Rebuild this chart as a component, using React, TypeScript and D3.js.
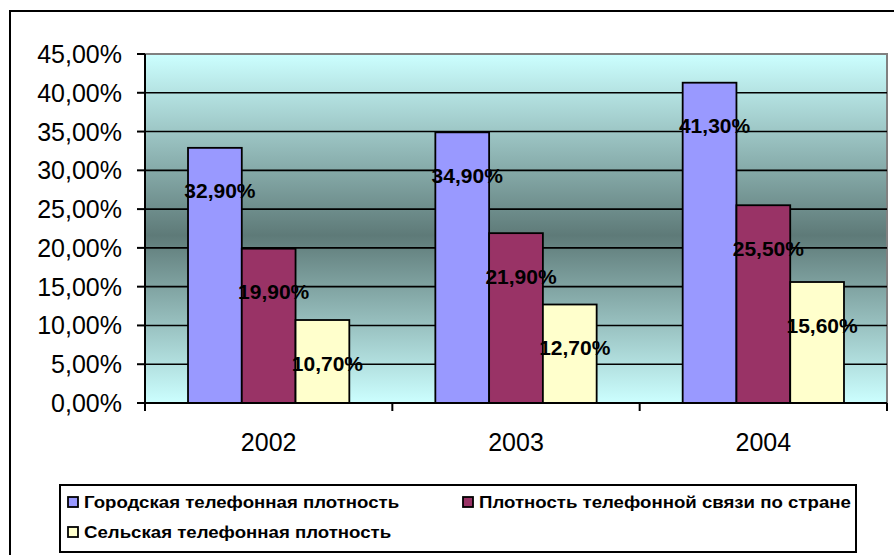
import { useMemo } from "react";
import * as d3 from "d3";

const years = ["2002", "2003", "2004"];
const seriesNames = [
  "Городская телефонная плотность",
  "Плотность телефонной связи по стране",
  "Сельская телефонная плотность",
];
const urbanDensity = [32.9, 34.9, 41.3];
const nationalDensity = [19.9, 21.9, 25.5];
const ruralDensity = [10.7, 12.7, 15.6];
const yTicks = [0, 5, 10, 15, 20, 25, 30, 35, 40, 45];

const seriesColors = ["#9999FF", "#993366", "#FFFFCC"];
const FONT = "'Liberation Sans', Arial, sans-serif";

const fmt = (v: number) => v.toFixed(2).replace(".", ",") + "%";

export default function App() {
  const width = 894;
  const height = 555;
  const plot = { left: 145, right: 887, top: 54, bottom: 403 };

  const values = [urbanDensity, nationalDensity, ruralDensity];

  const x = useMemo(
    () => d3.scaleBand<string>().domain(years).range([plot.left, plot.right]),
    []
  );
  const y = useMemo(
    () => d3.scaleLinear().domain([0, 45]).range([plot.bottom, plot.top]),
    []
  );
  const bw = x.bandwidth();
  const gapWidth = 1.6;
  const barW = bw / (seriesNames.length + gapWidth);
  const inner = d3
    .scaleBand<number>()
    .domain(d3.range(seriesNames.length))
    .range([(barW * gapWidth) / 2, bw - (barW * gapWidth) / 2]);

  const boundaries = [...years.map((yr) => x(yr)!), plot.right];

  // legend text in the original is drawn slightly stretched horizontally
  const legendStretch = 1.165;
  const legendItems = [
    { i: 0, x: 68, y: 502 },
    { i: 1, x: 463, y: 502 },
    { i: 2, x: 68, y: 532 },
  ];

  return (
    <svg
      width={width}
      height={height}
      style={{ position: "absolute", left: 0, top: 0, background: "#fff" }}
      fontFamily={FONT}
    >
      <defs>
        <linearGradient id="plotBg" x1="0" y1="0" x2="0" y2="1">
          <stop offset="0%" stopColor="#CCFFFF" />
          <stop offset="52%" stopColor="#5E7A78" />
          <stop offset="100%" stopColor="#CCFFFF" />
        </linearGradient>
      </defs>

      {/* chart border */}
      <rect x={10} y={11} width={910} height={580} fill="#fff" stroke="#000" strokeWidth={2} />

      {/* plot area */}
      <rect
        x={plot.left}
        y={plot.top}
        width={plot.right - plot.left}
        height={plot.bottom - plot.top}
        fill="url(#plotBg)"
        stroke="#808080"
        strokeWidth={2}
      />

      {/* gridlines */}
      {yTicks.slice(1, -1).map((t) => (
        <line
          key={t}
          x1={plot.left}
          x2={plot.right}
          y1={y(t)}
          y2={y(t)}
          stroke="#000"
          strokeWidth={1.6}
        />
      ))}

      {/* bars */}
      {years.map((yr, yi) => (
        <g key={yr} transform={`translate(${x(yr)},0)`}>
          {values.map((vals, si) => (
            <rect
              key={si}
              x={inner(si)}
              y={y(vals[yi])}
              width={inner.bandwidth()}
              height={y(0) - y(vals[yi])}
              fill={seriesColors[si]}
              stroke="#000"
              strokeWidth={1.8}
            />
          ))}
        </g>
      ))}

      {/* data labels */}
      {years.map((yr, yi) =>
        values.map((vals, si) => (
          <text
            key={`${yr}-${si}`}
            x={x(yr)! + inner(si)! + inner.bandwidth() / 2 + 5}
            y={y(vals[yi]) + 43}
            textAnchor="middle"
            dominantBaseline="central"
            fontSize={21}
            fontWeight="bold"
            fill="#000"
          >
            {fmt(vals[yi])}
          </text>
        ))
      )}

      {/* axes */}
      <line x1={plot.left} x2={plot.left} y1={plot.top} y2={plot.bottom} stroke="#000" strokeWidth={2} />
      <line x1={plot.left} x2={plot.right} y1={plot.bottom} y2={plot.bottom} stroke="#000" strokeWidth={2} />
      {yTicks.map((t) => (
        <g key={t}>
          <line x1={plot.left - 8} x2={plot.left} y1={y(t)} y2={y(t)} stroke="#000" strokeWidth={2} />
          <text
            x={122}
            y={y(t)}
            textAnchor="end"
            dominantBaseline="central"
            fontSize={25}
            fill="#000"
          >
            {fmt(t)}
          </text>
        </g>
      ))}
      {boundaries.map((bx, i) => (
        <line key={i} x1={bx} x2={bx} y1={plot.bottom} y2={plot.bottom + 8} stroke="#000" strokeWidth={2} />
      ))}
      {years.map((yr) => (
        <text
          key={yr}
          x={x(yr)! + bw / 2}
          y={442}
          textAnchor="middle"
          dominantBaseline="central"
          fontSize={25}
          fill="#000"
        >
          {yr}
        </text>
      ))}

      {/* legend */}
      <rect x={60} y={485} width={796} height={67} fill="#fff" stroke="#000" strokeWidth={2} />
      {legendItems.map((it) => (
        <g key={it.i}>
          <rect
            x={it.x}
            y={it.y - 5}
            width={10}
            height={10}
            fill={seriesColors[it.i]}
            stroke="#000"
            strokeWidth={1.8}
          />
          <text
            transform={`translate(${it.x + 16},${it.y}) scale(${legendStretch},1)`}
            dominantBaseline="central"
            fontSize={16}
            fontWeight="bold"
            fill="#000"
          >
            {seriesNames[it.i]}
          </text>
        </g>
      ))}
    </svg>
  );
}
